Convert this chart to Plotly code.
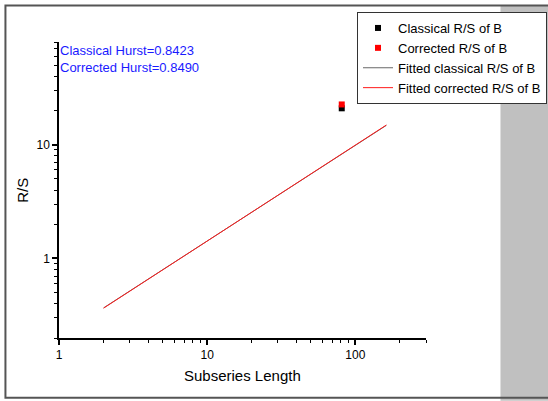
import math
import plotly.graph_objects as go

# ---- data ----
classical_x = [81]
classical_y = [20.9]
corrected_x = [81]
corrected_y = [22.6]
fit_x = [2, 162]
fit_classical_y = [0.368, 14.8]
fit_corrected_y = [0.366, 14.9]

x_tickvals = [1, 10, 100]
x_ticktext = ["1", "10", "100"]
y_tickvals = [1, 10]
y_ticktext = ["1", "10"]
x_minor = [v * m for v in [1, 10, 100] for m in range(2, 10)]
y_minor = [v * m for v in [0.1, 1, 10] for m in range(2, 10)]

hurst_classical = "0.8423"
hurst_corrected = "0.8490"

FONT = "Arial, Liberation Sans, sans-serif"

# pixel geometry helpers
W, H = 548, 401
L, R, T, B = 59, 425.6, 42, 338.3
def px(x):
    return (x - L) / (R - L)
def py(y):
    return (B - y) / (B - T)

fig = go.Figure()
fig.add_trace(go.Scatter(x=classical_x, y=classical_y, mode="markers",
                         name="Classical R/S of B",
                         marker=dict(symbol="square", size=6, color="black")))
fig.add_trace(go.Scatter(x=corrected_x, y=corrected_y, mode="markers",
                         name="Corrected R/S of B",
                         marker=dict(symbol="square", size=6, color="red")))
fig.add_trace(go.Scatter(x=fit_x, y=fit_classical_y, mode="lines",
                         name="Fitted classical R/S of B",
                         line=dict(color="black", width=0.6)))
fig.add_trace(go.Scatter(x=fit_x, y=fit_corrected_y, mode="lines",
                         name="Fitted corrected R/S of B",
                         line=dict(color="#ff1a1a", width=1)))

fig.update_layout(
    width=W, height=H, autosize=False,
    margin=dict(l=L, r=W - R, t=T, b=H - B, pad=0, autoexpand=False),
    paper_bgcolor="white", plot_bgcolor="white",
    font=dict(family=FONT, size=12, color="black"),
    xaxis=dict(type="log", range=[0, math.log10(300)],
               tickmode="array", tickvals=x_tickvals, ticktext=x_ticktext,
               ticks="outside", ticklen=5, tickwidth=1.5, tickcolor="black",
               minor=dict(tickmode="array", tickvals=x_minor, ticks="outside",
                          ticklen=3, tickwidth=1, tickcolor="black"),
               showline=True, linecolor="black", linewidth=1.5,
               showgrid=False, zeroline=False, automargin=False,
               tickfont=dict(size=12)),
    yaxis=dict(type="log", range=[math.log10(0.2), math.log10(80)],
               tickmode="array", tickvals=y_tickvals, ticktext=y_ticktext,
               ticks="outside", ticklen=5, tickwidth=1.5, tickcolor="black",
               minor=dict(tickmode="array", tickvals=y_minor, ticks="outside",
                          ticklen=3, tickwidth=1, tickcolor="black"),
               showline=True, linecolor="black", linewidth=1.5,
               showgrid=False, zeroline=False, automargin=False,
               tickfont=dict(size=12)),
    showlegend=True,
    legend=dict(xref="container", yref="container",
                x=357 / W, y=1 - 12 / H, xanchor="left", yanchor="top",
                bgcolor="white", bordercolor="#333333", borderwidth=1,
                font=dict(size=13, family=FONT), tracegroupgap=0,
                itemwidth=30),
)

fig.add_shape(type="rect", xref="paper", yref="paper",
              x0=px(500), x1=px(560), y0=py(401), y1=py(5.5),
              fillcolor="#c0c0c0", line=dict(width=0), layer="below")
fig.add_shape(type="rect", xref="paper", yref="paper",
              x0=px(5.5), x1=px(560), y0=py(398), y1=py(5.5),
              fillcolor="rgba(0,0,0,0)", line=dict(color="#555555", width=2),
              layer="below")

fig.add_annotation(xref="paper", yref="paper", x=px(58.5), y=py(50.7),
                   xanchor="left", yanchor="middle", showarrow=False,
                   text="Classical Hurst=" + hurst_classical,
                   font=dict(size=13, color="#1a1aff", family=FONT))
fig.add_annotation(xref="paper", yref="paper", x=px(58.5), y=py(67.3),
                   xanchor="left", yanchor="middle", showarrow=False,
                   text="Corrected Hurst=" + hurst_corrected,
                   font=dict(size=13, color="#1a1aff", family=FONT))
fig.add_annotation(xref="paper", yref="paper", x=px(242), y=py(376),
                   xanchor="center", yanchor="middle", showarrow=False,
                   text="Subseries Length", font=dict(size=15, family=FONT))
fig.add_annotation(xref="paper", yref="paper", x=px(23), y=py(190),
                   xanchor="center", yanchor="middle", showarrow=False,
                   textangle=-90, text="R/S", font=dict(size=15, family=FONT))

fig.write_html("out.html",
               config={"responsive": False, "displayModeBar": False},
               post_script="document.body.style.margin='0';document.body.style.overflow='hidden';")
